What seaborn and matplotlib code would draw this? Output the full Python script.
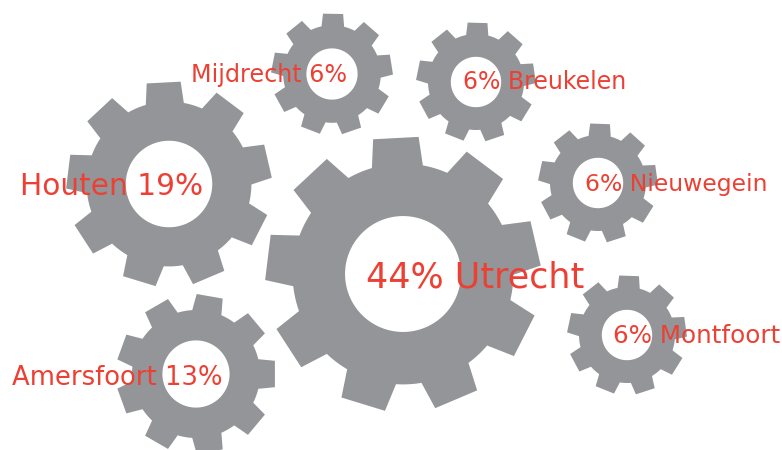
import numpy as np
import seaborn as sns
import matplotlib.pyplot as plt
from matplotlib.path import Path
from matplotlib.patches import PathPatch

# share of respondents per city (%)
cities = ["Utrecht", "Houten", "Amersfoort", "Mijdrecht", "Breukelen", "Nieuwegein", "Montfoort"]
shares = [44, 19, 13, 6, 6, 6, 6]
# label order: share first or city first
share_first = [True, False, False, False, True, True, True]

# gear layout in pixel space (x, y from top-left), tip radius, tooth phase (deg)
centers = [(403, 274), (169, 184), (196, 374), (332, 74), (476, 82), (598, 183), (627, 335)]
radii = [138, 103, 80, 61, 60, 60, 60]
phases = [13, 13, 0, 9, 8.5, 8, 8]
# label anchor (left x, baseline y) and font size
label_pos = [(366, 287), (20, 195), (12, 385), (191, 82), (463, 89), (585, 191), (613, 343)]
label_size = [25.2, 21.3, 18.6, 17.2, 17, 16.9, 17.7]

GEAR = "#939598"
RED = "#EC4034"
N_TEETH = 9


def gear_path(cx, cy, R, phase):
    rb = 0.80 * R
    rh = 0.42 * R
    hb = np.arcsin(0.185 * R / rb)   # half angle of tooth at body
    ht = np.arcsin(0.165)            # half angle of tooth at tip
    step = 2 * np.pi / N_TEETH
    pts = []
    for k in range(N_TEETH):
        th = np.radians(phase) + k * step
        # body arc from previous tooth to this one
        arc = np.linspace(th - step + hb, th - hb, 12)
        pts += [(rb, a) for a in arc]
        pts += [(R, th - ht), (R, th + ht), (rb, th + hb)]
    outer = [(cx + r * np.cos(a), cy - r * np.sin(a)) for r, a in pts]
    outer.append(outer[0])
    ang = np.linspace(0, -2 * np.pi, 90)
    hole = [(cx + rh * np.cos(a), cy - rh * np.sin(a)) for a in ang]
    verts = outer + hole
    codes = ([Path.MOVETO] + [Path.LINETO] * (len(outer) - 2) + [Path.CLOSEPOLY]
             + [Path.MOVETO] + [Path.LINETO] * (len(hole) - 2) + [Path.CLOSEPOLY])
    return Path(verts, codes)


def main():
    sns.set_style("white")
    plt.rcParams['font.family'] = ['DejaVu Sans']

    fig = plt.figure(figsize=(7.82, 4.5), dpi=100)
    ax = fig.add_axes([0, 0, 1, 1])
    ax.set_xlim(0, 782)
    ax.set_ylim(450, 0)
    ax.set_aspect('equal')
    ax.axis('off')

    for (cx, cy), R, ph in zip(centers, radii, phases):
        ax.add_patch(PathPatch(gear_path(cx, cy, R, ph), facecolor=GEAR, edgecolor='none'))

    for city, share, first, (x, y), fs in zip(cities, shares, share_first, label_pos, label_size):
        label = f"{share}% {city}" if first else f"{city} {share}%"
        ax.text(x, y, label, color=RED, fontsize=fs, ha='left', va='baseline')

    fig.savefig("out.png", dpi=100, facecolor='white')


if __name__ == "__main__":
    main()
